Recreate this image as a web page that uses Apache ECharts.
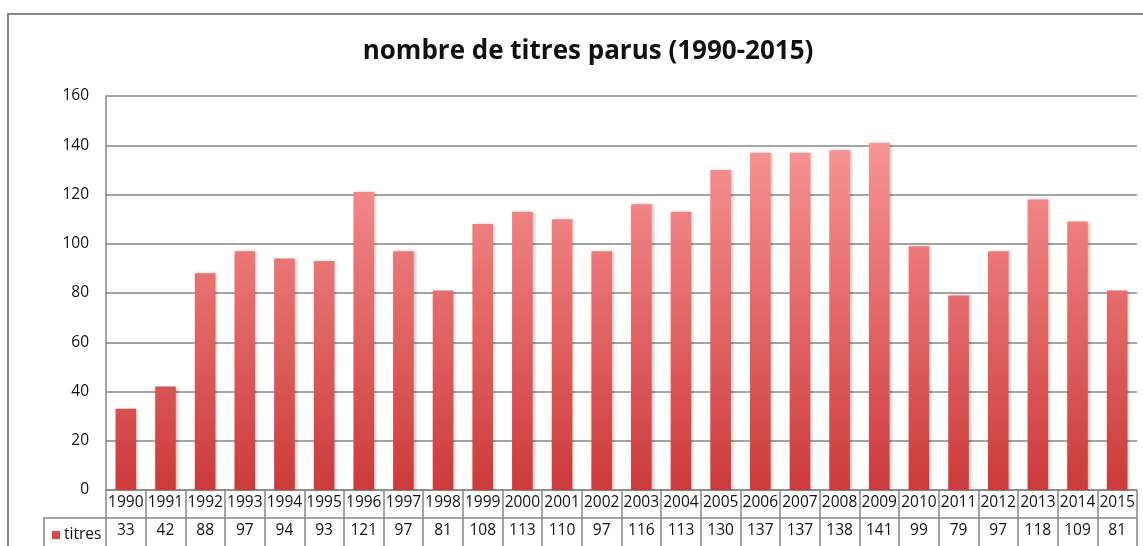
<!DOCTYPE html>
<html>
<head>
<meta charset="utf-8">
<script src="https://cdn.jsdelivr.net/npm/echarts@6/dist/echarts.min.js"></script>
<style>
html, body { margin: 0; padding: 0; background: #fff; }
#chart { width: 1143px; height: 546px; }
</style>
</head>
<body>
<div id="chart"></div>
<script>
// data
const years = ['1990', '1991', '1992', '1993', '1994', '1995', '1996', '1997', '1998', '1999',
	'2000', '2001', '2002', '2003', '2004', '2005', '2006', '2007', '2008', '2009',
	'2010', '2011', '2012', '2013', '2014', '2015'];
const titres = [33, 42, 88, 97, 94, 93, 121, 97, 81, 108, 113, 110, 97, 116, 113, 130,
	137, 137, 138, 141, 99, 79, 97, 118, 109, 81];
const yTicks = { min: 0, max: 160, interval: 20 };

const font = 'Open Sans';
const lineGrey = '#868686';
const textCol = '#111';

const chart = echarts.init(document.getElementById('chart'));

chart.setOption({
	animation: false,
	title: {
		text: 'nombre de titres parus (1990-2015)',
		left: 583,
		textAlign: 'center',
		top: 34,
		textStyle: {
			fontFamily: font,
			fontSize: 26,
			fontWeight: 'bold',
			color: '#111'
		}
	},
	legend: {
		data: ['titres'],
		left: 47,
		top: 522,
		icon: 'rect',
		itemWidth: 8,
		itemHeight: 8,
		itemGap: 6,
		itemStyle: { color: '#d9484a', shadowBlur: 0 },
		textStyle: { fontFamily: font, fontSize: 15.5, color: textCol, padding: [0, 0, 0, -1] }
	},
	grid: {
		left: 106,
		right: 6,
		top: 96,
		bottom: 56
	},
	xAxis: [
		{
			type: 'category',
			data: years,
			position: 'bottom',
			boundaryGap: true,
			axisLine: { show: true, lineStyle: { color: lineGrey, width: 1.5 } },
			axisTick: { show: true, interval: 0, length: 28, lineStyle: { color: lineGrey, width: 1.5 } },
			axisLabel: { interval: 0, margin: 5, fontFamily: font, fontSize: 15.5, color: textCol }
		},
		{
			type: 'category',
			data: titres.map(String),
			position: 'bottom',
			offset: 28,
			boundaryGap: true,
			axisLine: { show: true, lineStyle: { color: lineGrey, width: 1.5 } },
			axisTick: { show: true, interval: 0, length: 28, lineStyle: { color: lineGrey, width: 1.5 } },
			axisLabel: { interval: 0, margin: 5, fontFamily: font, fontSize: 15.5, color: textCol }
		}
	],
	yAxis: {
		type: 'value',
		min: yTicks.min,
		max: yTicks.max,
		interval: yTicks.interval,
		axisLine: { show: true, lineStyle: { color: lineGrey, width: 1.5 } },
		axisTick: { show: false },
		splitLine: { show: true, lineStyle: { color: lineGrey, width: 1.5 } },
		axisLabel: { margin: 17, fontFamily: font, fontSize: 15.5, color: textCol }
	},
	series: [
		{
			name: 'titres',
			type: 'bar',
			data: titres,
			barWidth: '52%',
			itemStyle: {
				color: new echarts.graphic.LinearGradient(0, 96, 0, 490, [
					{ offset: 0, color: '#ffa0a0' },
					{ offset: 1, color: '#cc3a3a' }
				], true),
				shadowColor: 'rgba(0,0,0,0.22)',
				shadowBlur: 3,
				shadowOffsetX: 2
			}
		}
	],
	graphic: [
		// outer chart border
		{
			type: 'rect',
			shape: { x: 8, y: 14, width: 1200, height: 600 },
			style: { fill: 'none', stroke: lineGrey, lineWidth: 2 },
			silent: true
		},
		// legend cell of the data table
		{
			type: 'polyline',
			shape: { points: [[44, 560], [44, 518], [106, 518]] },
			style: { fill: 'none', stroke: lineGrey, lineWidth: 1.5 },
			silent: true
		}
	]
});
</script>
</body>
</html>
